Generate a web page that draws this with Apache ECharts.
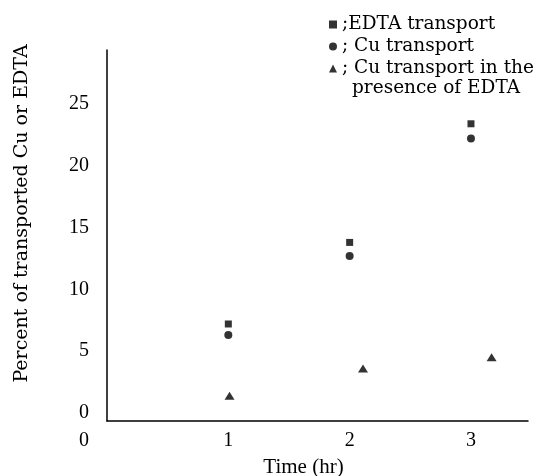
<!DOCTYPE html>
<html>
<head>
<meta charset="utf-8">
<script src="https://cdn.jsdelivr.net/npm/echarts@6/dist/echarts.min.js"></script>
<style>html,body{margin:0;padding:0;background:#fff}#c{width:539px;height:476px}</style>
</head>
<body>
<div id="c"></div>
<script>
const xTicks = [0, 1, 2, 3];
const yTicks = [0, 5, 10, 15, 20, 25];
const seriesNames = [';EDTA transport', '; Cu transport', '; Cu transport in the'];
const legendExtra = 'presence of EDTA';
const edtaTransport = [[1, 7.2], [2, 13.8], [3, 23.4]];
const cuTransport = [[1, 6.3], [2, 12.7], [3, 22.2]];
const cuWithEdta = [[1.01, 1.4], [2.11, 3.6], [3.17, 4.5]];
const xName = 'Time (hr)';
const yName = 'Percent of transported Cu or EDTA';

const FONT = 'Liberation Serif';
const WIDE = 'DejaVu Serif';
const chart = echarts.init(document.getElementById('c'));
chart.setOption({
  backgroundColor: '#fff',
  animation: false,
  title: {
    text: legendExtra, left: 347, top: 74,
    textStyle: { fontFamily: WIDE, fontSize: 18.5, fontWeight: 'normal', color: '#000' }
  },
  legend: {
    orient: 'vertical', left: 324, top: 10, itemGap: 3,
    itemWidth: 8, itemHeight: 8, itemStyle: { borderWidth: 0 },
    textStyle: { fontFamily: WIDE, fontSize: 18.5, color: '#000' },
    data: [
      { name: seriesNames[0], icon: 'rect' },
      { name: seriesNames[1], icon: 'circle' },
      { name: seriesNames[2], icon: 'triangle' }
    ]
  },
  grid: { left: 107, right: 11, top: 50, bottom: 55, outerBoundsMode: 'none', containLabel: false },
  xAxis: {
    type: 'value', min: 0, max: 3.47,
    name: xName, nameLocation: 'middle', nameGap: 36,
    nameTextStyle: { fontFamily: FONT, fontSize: 21, color: '#000', padding: [0, 28, 0, 0] },
    axisLine: { show: true, onZero: false, lineStyle: { color: '#000', width: 1.5 } },
    axisTick: { show: false },
    splitLine: { show: false },
    axisLabel: {
      customValues: xTicks, margin: 10,
      fontFamily: FONT, fontSize: 20, color: '#000',
      formatter: v => v === 0 ? '{z|0}' : String(v),
      rich: { z: { fontFamily: FONT, fontSize: 20, color: '#000', padding: [0, 46, 0, 0] } }
    }
  },
  yAxis: {
    type: 'value', min: -0.65, max: 29.37,
    name: yName, nameLocation: 'middle', nameGap: 75,
    nameTextStyle: { fontFamily: WIDE, fontSize: 19, color: '#000', padding: [0, 0, 0, 44] },
    axisLine: { show: true, onZero: false, lineStyle: { color: '#000', width: 1.5 } },
    axisTick: { show: false },
    splitLine: { show: false },
    axisLabel: {
      customValues: yTicks, margin: 18,
      fontFamily: FONT, fontSize: 20, color: '#000'
    }
  },
  series: [
    { name: seriesNames[0], type: 'scatter', symbol: 'rect', symbolSize: 7,
      itemStyle: { color: '#000' }, data: edtaTransport },
    { name: seriesNames[1], type: 'scatter', symbol: 'circle', symbolSize: 8,
      itemStyle: { color: '#000' }, data: cuTransport },
    { name: seriesNames[2], type: 'scatter', symbol: 'triangle', symbolSize: [10, 8],
      itemStyle: { color: '#000' }, data: cuWithEdta }
  ]
});
</script>
</body>
</html>
